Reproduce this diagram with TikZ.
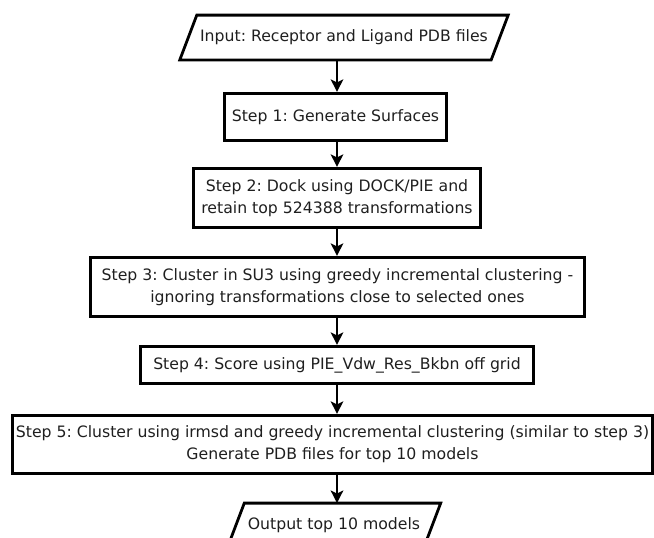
\documentclass[tikz,border=0pt]{standalone}
\usepackage{fontspec}
\setmainfont{DejaVu Sans}
\usetikzlibrary{arrows.meta}
\frenchspacing

\begin{document}
\begin{tikzpicture}[x=1pt, y=-1pt,
  every node/.style={font=\fontsize{15.7}{22}\selectfont, align=center, inner sep=0pt, text=black!88},
  stepbox/.style 2 args={draw, line width=2.8pt, minimum width=#1, minimum height=#2},
  iobox/.style={minimum width=#1, minimum height=44.4pt},
  ioline/.style={line width=2.8pt, line join=miter},
  flow/.style={line width=2.4pt, -{Stealth[length=12.5pt, width=12.5pt, inset=3pt]}}]

  % page frame
  \useasboundingbox (0,0) rectangle (654,538);

  % vertical axis shared by all connectors
  \coordinate (axis) at (337,0);

  % input / output parallelograms (node holds the text, outline drawn around it)
  \node[iobox=311pt] (in) at (344,37.5) {Input: Receptor and Ligand PDB files};
  \draw[ioline] ([xshift=8.5pt]in.north west) -- ([xshift=8.5pt]in.north east)
      -- ([xshift=-8.5pt]in.south east) -- ([xshift=-8.5pt]in.south west) -- cycle;

  % processing steps
  \node[stepbox={222.4pt}{47.4pt}] (s1) at (335.5,117) {Step 1: Generate Surfaces};
  \node[stepbox={287.4pt}{59.4pt}] (s2) at (337,198)
      {Step 2: Dock using DOCK/PIE and\\retain top 524388 transformations};
  \node[stepbox={494.4pt}{59.4pt}] (s3) at (337.5,287)
      {Step 3: Cluster in SU3 using greedy incremental clustering -\\ignoring transformations close to selected ones};
  \node[stepbox={393.4pt}{37.4pt}] (s4) at (337,365)
      {Step 4: Score using PIE\_Vdw\_Res\_Bkbn off grid};
  \node[stepbox={640.4pt}{58.4pt}] (s5) at (332.5,444.5)
      {Step 5: Cluster using irmsd and greedy incremental clustering (similar to step 3)\\Generate PDB files for top 10 models};

  \node[iobox=196pt] (out) at (334,525.5) {Output top 10 models};
  \draw[ioline] ([xshift=8.5pt]out.north west) -- ([xshift=8.5pt]out.north east)
      -- ([xshift=-8.5pt]out.south east) -- ([xshift=-8.5pt]out.south west) -- cycle;

  % connectors
  \draw[flow] (in.south -| axis) -- (s1.north -| axis);
  \draw[flow] (s1.south -| axis) -- (s2.north -| axis);
  \draw[flow] (s2.south -| axis) -- (s3.north -| axis);
  \draw[flow] (s3.south -| axis) -- (s4.north -| axis);
  \draw[flow] (s4.south -| axis) -- (s5.north -| axis);
  \draw[flow] (s5.south -| axis) -- (out.north -| axis);
\end{tikzpicture}
\end{document}
